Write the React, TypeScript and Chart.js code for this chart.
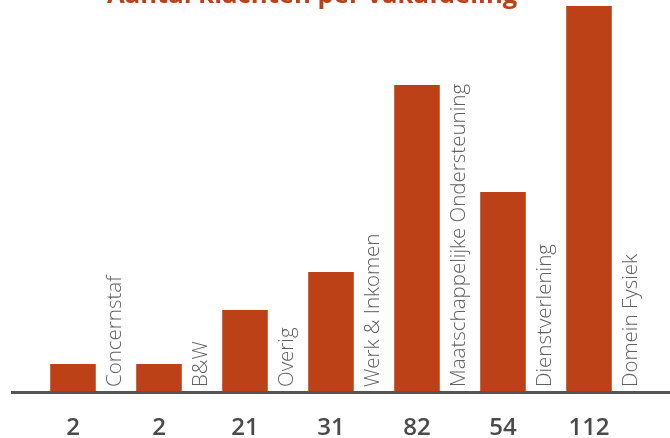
import React, { useEffect, useRef } from "react";
import { Chart, registerables } from "chart.js";

Chart.register(...registerables);

const title = "Aantal klachten per vakafdeling";
const categories = [
  "Concernstaf",
  "B&W",
  "Overig",
  "Werk & Inkomen",
  "Maatschappelijke Ondersteuning",
  "Dienstverlening",
  "Domein Fysiek",
];
const countLabels = ["2", "2", "21", "31", "82", "54", "112"];
const barHeights = [27, 27, 81, 119, 306, 199, 385];

const BAR_COLOR = "#bd4117";

const overlay = {
  id: "overlay",
  afterDatasetsDraw(chart: any) {
    const ctx = chart.ctx as CanvasRenderingContext2D;
    const meta = chart.getDatasetMeta(0);
    const yBase = chart.scales.y.getPixelForValue(0);
    ctx.save();
    // axis line
    ctx.strokeStyle = "#555555";
    ctx.lineWidth = 3;
    ctx.beginPath();
    ctx.moveTo(11, yBase + 1.5);
    ctx.lineTo(670, yBase + 1.5);
    ctx.stroke();

    meta.data.forEach((bar: any, i: number) => {
      const cx = bar.x;
      const right = bar.x + bar.width / 2;
      // bottom count label
      ctx.fillStyle = "#4a4a4a";
      ctx.font = "600 24px 'Open Sans'";
      ctx.textAlign = "center";
      ctx.textBaseline = "alphabetic";
      ctx.fillText(countLabels[i], cx, 435);
      // rotated category label
      ctx.save();
      ctx.translate(right + 25, yBase - 4);
      ctx.rotate(-Math.PI / 2);
      ctx.fillStyle = "#606060";
      ctx.font = "300 20.5px 'Open Sans'";
      ctx.textAlign = "left";
      ctx.fillText(categories[i], 0, 0);
      ctx.restore();
    });

    // title (clipped at top), fitted to the reference width
    ctx.fillStyle = BAR_COLOR;
    ctx.font = "bold 27px 'Open Sans'";
    const w = ctx.measureText(title).width;
    const size = (27 * 410) / w;
    ctx.font = `bold ${size.toFixed(1)}px 'Open Sans'`;
    ctx.textAlign = "left";
    ctx.fillText(title, 107, 3);
    ctx.restore();
  },
};

export default function App() {
  const ref = useRef<HTMLCanvasElement>(null);
  useEffect(() => {
    if (!ref.current) return;
    const chart = new Chart(ref.current, {
      type: "bar",
      data: {
        labels: categories,
        datasets: [
          {
            data: barHeights,
            backgroundColor: BAR_COLOR,
            borderWidth: 0,
            barPercentage: 0.53,
            categoryPercentage: 1,
          },
        ],
      },
      options: {
        responsive: false,
        animation: false,
        layout: { padding: { left: 30, right: 38, top: 6, bottom: 47 } },
        plugins: { legend: { display: false }, tooltip: { enabled: false }, title: { display: false } },
        scales: {
          x: { display: false, offset: true },
          y: { display: false, min: 0, max: 385 },
        },
      },
      plugins: [overlay],
    });
    return () => chart.destroy();
  }, []);
  return (
    <div style={{ position: "absolute", left: 0, top: 0, width: 670, height: 438, background: "#fff" }}>
      <canvas ref={ref} width={670} height={438} />
    </div>
  );
}
